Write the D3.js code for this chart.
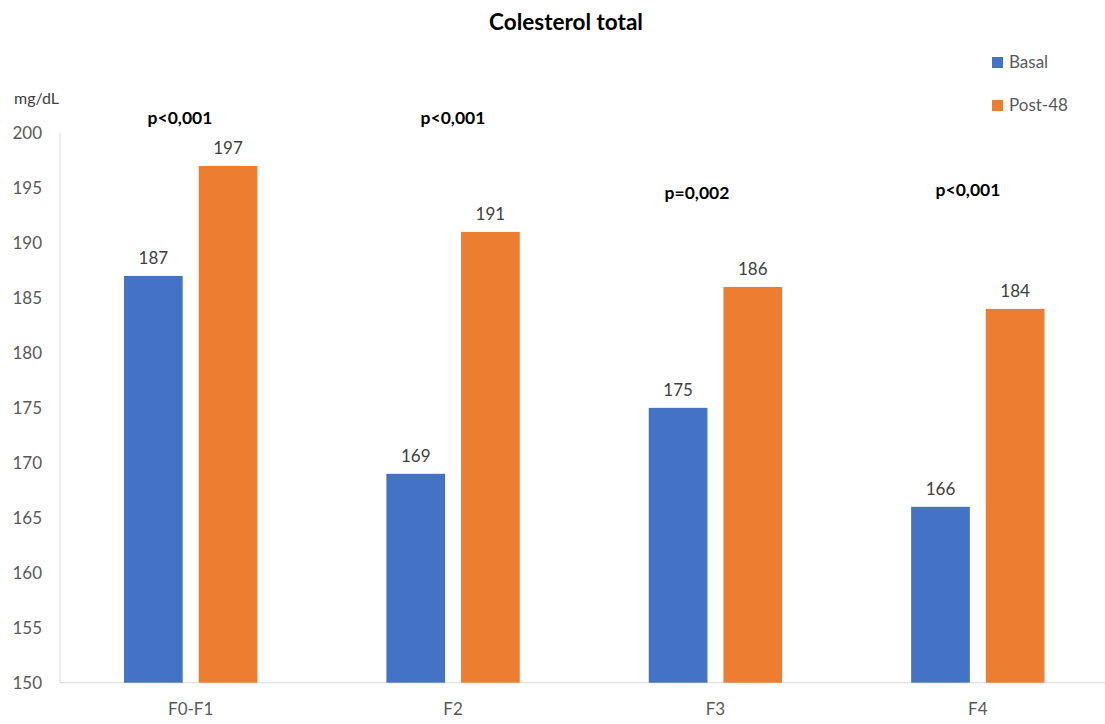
<!DOCTYPE html>
<html>
<head>
<meta charset="utf-8">
<script src="https://cdn.jsdelivr.net/npm/d3@7"></script>
<style>
  html, body { margin: 0; padding: 0; background: #fff; }
  svg { display: block; font-family: Lato, "Open Sans", sans-serif; }
</style>
</head>
<body>
<svg id="chart" width="1105" height="724"></svg>
<script>
// Total cholesterol (mg/dL) by fibrosis stage, baseline vs. week 48
const categories = ["F0-F1", "F2", "F3", "F4"];
const seriesNames = ["Basal", "Post-48"];
const basalValues = [187, 169, 175, 166];
const post48Values = [197, 191, 186, 184];
const pValues = ["p<0,001", "p<0,001", "p=0,002", "p<0,001"];
const yTicks = [150, 155, 160, 165, 170, 175, 180, 185, 190, 195, 200];
const colors = ["#4472C4", "#ED7D31"];

const svg = d3.select("#chart");

const x0 = d3.scaleBand().domain(categories).range([59.5, 1109]).paddingInner(0).paddingOuter(0);
const x1 = d3.scaleBand().domain(seriesNames).range([0, x0.bandwidth()]).paddingInner(0.214).paddingOuter(0.864);
const y = d3.scaleLinear().domain([150, 200]).range([682.7, 133]);

const rows = categories.map((c, i) => ({ cat: c, values: [basalValues[i], post48Values[i]], p: pValues[i] }));

// Title
svg.append("text").attr("x", 566).attr("y", 30).attr("text-anchor", "middle")
  .attr("font-size", 22.5).attr("font-weight", "bold").attr("fill", "#000").text("Colesterol total");

// Unit label
svg.append("text").attr("x", 14).attr("y", 104).attr("font-size", 16).attr("fill", "#404040").text("mg/dL");

// Y axis
const yAxis = svg.append("g").attr("transform", `translate(60,0)`)
  .call(d3.axisLeft(y).tickValues(yTicks).tickSize(0).tickPadding(18));
yAxis.select(".domain").attr("stroke", "#d9d9d9").attr("d", `M0,${y(200)}V${y(150)}`);
yAxis.selectAll("text").attr("font-size", 17).attr("fill", "#595959").attr("font-family", "Lato, 'Open Sans', sans-serif");

// X axis
const xAxis = svg.append("g").attr("transform", `translate(0,${y(150)})`)
  .call(d3.axisBottom(x0).tickSize(0).tickPadding(20));
xAxis.select(".domain").attr("stroke", "#d9d9d9").attr("d", `M60,0H1105`);
xAxis.selectAll("text").attr("font-size", 17).attr("fill", "#595959").attr("font-family", "Lato, 'Open Sans', sans-serif");

// Bars
const groups = svg.append("g").selectAll("g").data(rows).join("g")
  .attr("transform", d => `translate(${x0(d.cat)},0)`);

groups.selectAll("rect").data(d => d.values.map((v, i) => ({ s: seriesNames[i], v, i }))).join("rect")
  .attr("x", d => x1(d.s)).attr("width", x1.bandwidth())
  .attr("y", d => y(d.v)).attr("height", d => y(150) - y(d.v))
  .attr("fill", d => colors[d.i]);

// Value labels
groups.selectAll("text.val").data(d => d.values.map((v, i) => ({ s: seriesNames[i], v }))).join("text")
  .attr("class", "val")
  .attr("x", d => x1(d.s) + x1.bandwidth() / 2).attr("y", d => y(d.v) - 12)
  .attr("text-anchor", "middle").attr("font-size", 17).attr("fill", "#404040").text(d => d.v);

// Significance labels
const pPos = [[180, 124], [453, 124], [697, 199], [968, 196]];
svg.append("g").selectAll("text").data(rows).join("text")
  .attr("x", (d, i) => pPos[i][0]).attr("y", (d, i) => pPos[i][1])
  .attr("text-anchor", "middle").attr("font-size", 17.5).attr("font-weight", "bold").attr("fill", "#000")
  .text(d => d.p);

// Legend
const legend = svg.append("g").selectAll("g").data(seriesNames).join("g")
  .attr("transform", (d, i) => `translate(992,${57 + i * 43})`);
legend.append("rect").attr("width", 11).attr("height", 11).attr("fill", (d, i) => colors[i]);
legend.append("text").attr("x", 17).attr("y", 11).attr("font-size", 17).attr("fill", "#595959").text(d => d);
</script>
</body>
</html>
